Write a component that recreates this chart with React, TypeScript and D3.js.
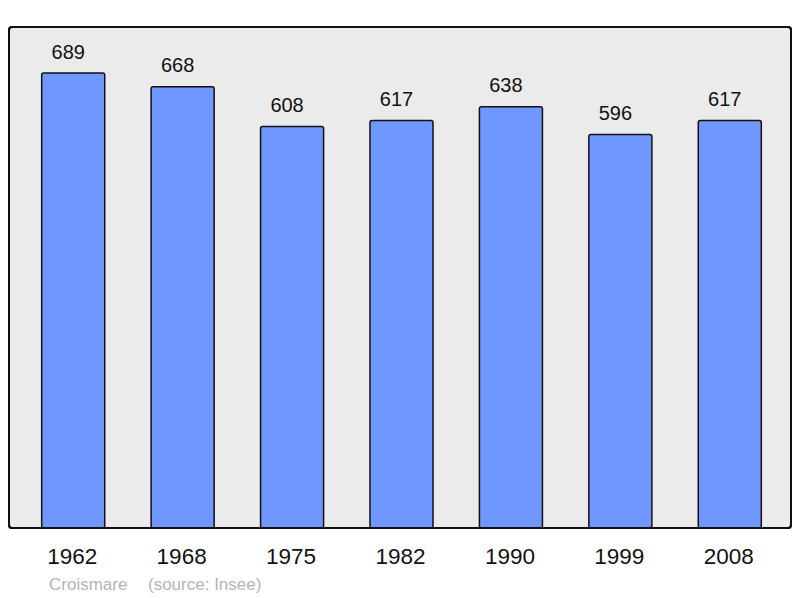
import React from "react";
import * as d3 from "d3";

const years = ["1962", "1968", "1975", "1982", "1990", "1999", "2008"];
const population = [689, 668, 608, 617, 638, 596, 617];
const commune = "Croismare";
const source = "(source: Insee)";

const W = 800;
const H = 598;
const frame = { left: 9, right: 791, top: 27, bottom: 528 };

export default function App() {
  const x = d3
    .scaleBand<string>()
    .domain(years)
    .range([18.5, 784.5])
    .paddingInner(0.424)
    .paddingOuter(0.212);
  const y = d3.scaleLinear().domain([0, 689]).range([frame.bottom, 73]);
  const font = "'Liberation Sans', Arial, sans-serif";
  return (
    <svg
      width={W}
      height={H}
      style={{ position: "absolute", left: 0, top: 0 }}
      fontFamily={font}
    >
      <rect x={0} y={0} width={W} height={H} fill="#ffffff" />
      <rect
        x={frame.left}
        y={frame.top}
        width={frame.right - frame.left}
        height={frame.bottom - frame.top}
        rx={3}
        fill="#ebebeb"
        stroke="#111"
        strokeWidth={2}
      />
      {years.map((yr, i) => {
        const x0 = x(yr)!;
        const top = y(population[i]);
        const cx = x0 + x.bandwidth() / 2;
        return (
          <g key={yr}>
            <rect
              x={x0}
              y={top}
              width={x.bandwidth()}
              height={frame.bottom - top}
              rx={2}
              fill="#7096ff"
              stroke="#111"
              strokeWidth={1.5}
            />
            <text
              x={cx - 5}
              y={top - 14.5}
              textAnchor="middle"
              fontSize={20}
              fill="#111"
            >
              {population[i]}
            </text>
            <text
              x={cx - 1}
              y={564}
              textAnchor="middle"
              fontSize={22.5}
              fill="#111"
            >
              {yr}
            </text>
          </g>
        );
      })}
      <rect
        x={frame.left}
        y={frame.top}
        width={frame.right - frame.left}
        height={frame.bottom - frame.top}
        rx={3}
        fill="none"
        stroke="#111"
        strokeWidth={2}
      />
      <text x={49} y={590} fontSize={17} fill="#b4b4b4">
        {commune}
      </text>
      <text x={148} y={590} fontSize={17} fill="#b4b4b4">
        {source}
      </text>
    </svg>
  );
}
